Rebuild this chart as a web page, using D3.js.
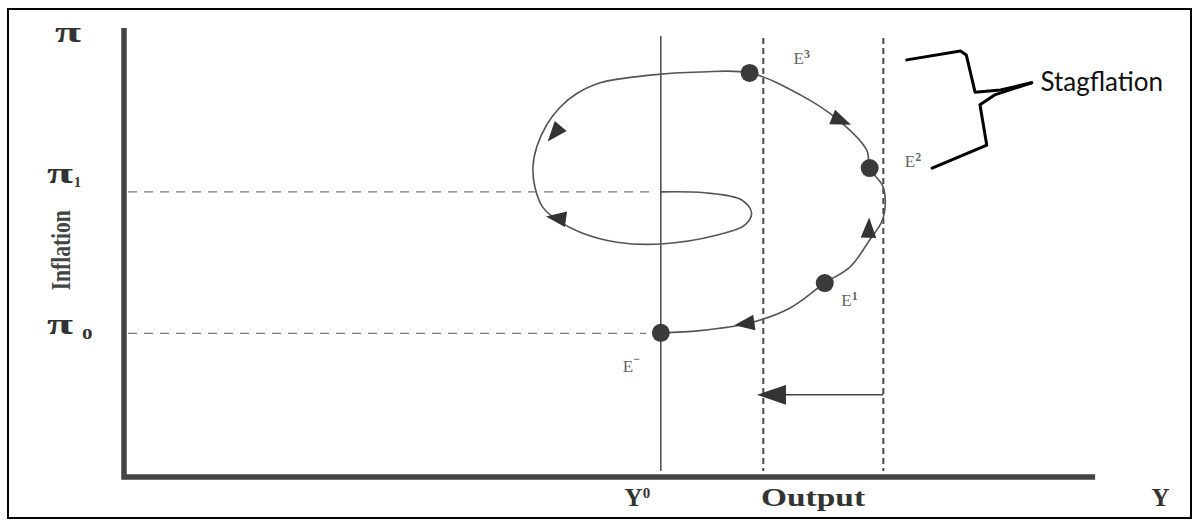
<!DOCTYPE html>
<html>
<head>
<meta charset="utf-8">
<script src="https://cdn.jsdelivr.net/npm/d3@7"></script>
<style>
  body { margin: 0; background: #fff; }
  svg { display: block; }
</style>
</head>
<body>
<div id="chart-area"></div>
<script>
// axis ticks on the inflation axis
const yTickLabels = ["π", "π", "π"];
const yTickSubs = ["", "1", "o"];
const yTickValues = [98.5, 63.5, 32.0];

// bottom labels
const xLabelText = ["Y", "Output", "Y"];
const xLabelSup = ["0", "", ""];
const xLabelValues = [52.6, 70.6, 106.2];

// vertical reference lines (output levels)
const vLineValues = [55.0, 65.5, 77.8];

// adjustment path (output, inflation)
const spiralX = [55.0, 59.0, 64.1, 68.2, 71.8, 74.4, 76.4, 77.7, 78.0, 77.7, 76.4, 76.1, 73.2, 69.3, 64.1,
  59.0, 53.9, 48.8, 46.4, 44.7, 43.3, 42.3, 41.9, 42.1, 42.9, 44.4, 47.0, 50.5, 55.0, 60.8, 63.6, 64.3, 63.3, 59.5, 55.0];
const spiralY = [32.1, 32.6, 34.3, 37.6, 43.2, 46.8, 52.8, 57.2, 61.7, 65.0, 68.8, 72.8, 79.5, 85.1, 90.0,
  90.2, 89.5, 87.8, 85.4, 82.4, 78.4, 73.6, 69.0, 64.6, 60.1, 57.2, 54.3, 52.3, 51.9, 53.9, 56.1, 58.8, 61.7, 63.3, 63.5];

// equilibrium points
const pointNames = ["E", "E", "E", "E"];
const pointSups = ["−", "1", "2", "3"];
const pointX = [55.0, 71.8, 76.4, 64.1];
const pointY = [32.1, 43.2, 68.8, 90.0];
const pointLabelX = [51.1, 73.5, 80.0, 68.6];
const pointLabelY = [23.4, 38.0, 69.0, 92.0];

// direction arrows on the path (angle in degrees, 0 = right, 90 = down)
const arrowX = [44.3, 44.6, 63.9, 73.2, 76.3];
const arrowY = [77.0, 57.6, 34.2, 79.6, 54.8];
const arrowAngle = [130, 188, 172, 22, 272];

// horizontal shift arrow
const shiftFrom = 77.8;
const shiftTo = 65.5;
const shiftY = 18.3;

// stagflation brace
const braceTopX = [80.2, 85.7, 86.3, 87.2, 89.8, 93.0];
const braceTopY = [92.9, 94.9, 94.0, 85.7, 86.2, 87.8];
const braceBotX = [93.0, 89.2, 87.7, 88.4, 82.8];
const braceBotY = [87.8, 85.1, 82.9, 73.9, 68.8];

const W = 1193, H = 520;
const margin = { top: 28, right: 93, bottom: 43, left: 124 };
const width = W - margin.left - margin.right;
const height = H - margin.top - margin.bottom;

const svg = d3.select("#chart-area")
  .append("svg")
    .attr("width", W)
    .attr("height", H);

// outer frame
svg.append("rect")
  .attr("x", 8).attr("y", 9)
  .attr("width", W - 10).attr("height", H - 11)
  .attr("fill", "none")
  .attr("stroke", "#000")
  .attr("stroke-width", 2);

const g = svg.append("g")
  .attr("transform", `translate(${margin.left}, ${margin.top})`);

const x = d3.scaleLinear().domain([0, 100]).range([0, width]);
const y = d3.scaleLinear().domain([0, 100]).range([height, 0]);

const ink = "#4a4a4a";

// dashed inflation guides
g.selectAll(".pi-guide")
  .data([63.5, 32.0])
  .enter()
  .append("line")
    .attr("class", "pi-guide")
    .attr("x1", 4)
    .attr("x2", (d, i) => i === 0 ? x(54.5) : x(53.5))
    .attr("y1", d => y(d))
    .attr("y2", d => y(d))
    .attr("stroke", "#777")
    .attr("stroke-width", 1.3)
    .attr("stroke-dasharray", "9,7");

// vertical lines
g.selectAll(".vline")
  .data(vLineValues)
  .enter()
  .append("line")
    .attr("class", "vline")
    .attr("x1", d => x(d))
    .attr("x2", d => x(d))
    .attr("y1", (d, i) => i === 0 ? 8 : 10)
    .attr("y2", height - 6)
    .attr("stroke", ink)
    .attr("stroke-width", (d, i) => i === 0 ? 1.5 : 2)
    .attr("stroke-dasharray", (d, i) => i === 0 ? null : "6,4");

// spiral
const line = d3.line()
  .x(d => x(d[0]))
  .y(d => y(d[1]))
  .curve(d3.curveCatmullRom.alpha(0.5));

g.append("path")
  .datum(spiralX.map((v, i) => [v, spiralY[i]]))
  .attr("d", line)
  .attr("fill", "none")
  .attr("stroke", "#555")
  .attr("stroke-width", 1.6);

// arrows along spiral
const tri = d3.symbol().type(d3.symbolTriangle).size(130);
g.selectAll(".dir")
  .data(arrowX)
  .enter()
  .append("path")
    .attr("class", "dir")
    .attr("d", tri)
    .attr("transform", (d, i) => `translate(${x(d)},${y(arrowY[i])}) rotate(${arrowAngle[i] + 90}) scale(0.9,1.35)`)
    .attr("fill", "#333");

// equilibrium dots
g.selectAll(".eq")
  .data(pointX)
  .enter()
  .append("circle")
    .attr("class", "eq")
    .attr("cx", d => x(d))
    .attr("cy", (d, i) => y(pointY[i]))
    .attr("r", 9)
    .attr("fill", "#3a3a3a");

// equilibrium labels
const eLabels = g.selectAll(".elab")
  .data(pointNames)
  .enter()
  .append("text")
    .attr("class", "elab")
    .attr("x", (d, i) => x(pointLabelX[i]))
    .attr("y", (d, i) => y(pointLabelY[i]))
    .attr("font-family", "Liberation Serif, serif")
    .attr("font-size", "17px")
    .attr("fill", "#666");
eLabels.append("tspan").text(d => d);
eLabels.append("tspan")
  .attr("dy", (d, i) => i === 0 ? -9 : -6)
  .attr("font-size", "12px")
  .attr("font-weight", "bold")
  .text((d, i) => pointSups[i]);

// shift arrow
g.append("line")
  .attr("x1", x(shiftFrom))
  .attr("x2", x(shiftTo) + 22)
  .attr("y1", y(shiftY))
  .attr("y2", y(shiftY))
  .attr("stroke", "#444")
  .attr("stroke-width", 1.5);
g.append("path")
  .attr("d", d3.symbol().type(d3.symbolTriangle).size(190))
  .attr("transform", `translate(${x(shiftTo) + 13},${y(shiftY)}) rotate(-90) scale(0.95,1.6)`)
  .attr("fill", "#333");

// axes (heavy L shape)
g.append("path")
  .attr("d", `M0,0 V${height} H${x(99.5)}`)
  .attr("fill", "none")
  .attr("stroke", "#444")
  .attr("stroke-width", 5.5);

// inflation tick labels
const piX = [-69, -77, -77];
const piDy = [7, -9, 1];
yTickLabels.forEach((t, i) => {
  g.append("text")
    .attr("x", piX[i])
    .attr("y", y(yTickValues[i]) + piDy[i])
    .attr("font-family", "Liberation Serif, serif")
    .attr("font-weight", "bold")
    .attr("font-size", "30px")
    .attr("textLength", 26)
    .attr("lengthAdjust", "spacingAndGlyphs")
    .attr("fill", "#333")
    .text(t);
  if (yTickSubs[i]) {
    g.append("text")
      .attr("x", piX[i] + (i === 1 ? 27 : 35))
      .attr("y", y(yTickValues[i]) + piDy[i] + (i === 1 ? 4 : 5))
      .attr("font-family", "Liberation Serif, serif")
      .attr("font-weight", "bold")
      .attr("font-size", i === 1 ? "14px" : "21px")
      .attr("fill", "#333")
      .text(yTickSubs[i]);
  }
});

// axis titles
g.append("text")
  .attr("transform", `translate(-54, ${y(50.5)}) rotate(-90)`)
  .attr("text-anchor", "middle")
  .attr("font-family", "Liberation Serif, serif")
  .attr("font-size", "27px")
  .attr("font-weight", "bold")
  .attr("textLength", 80)
  .attr("lengthAdjust", "spacingAndGlyphs")
  .attr("fill", "#444")
  .text("Inflation");

xLabelText.forEach((t, i) => {
  const tx = g.append("text")
    .attr("x", x(xLabelValues[i]))
    .attr("y", height + 29)
    .attr("text-anchor", "middle")
    .attr("font-family", "Liberation Serif, serif")
    .attr("font-weight", "bold")
    .attr("font-size", "25px")
    .attr("fill", "#333");
  if (t === "Output") {
    tx.attr("textLength", 104).attr("lengthAdjust", "spacingAndGlyphs");
  }
  tx.append("tspan").text(t);
  if (xLabelSup[i]) {
    tx.append("tspan")
      .attr("dy", -8)
      .attr("font-size", "15px")
      .text(xLabelSup[i]);
  }
});

// stagflation brace and label
const brace = d3.line()
  .x(d => x(d[0]))
  .y(d => y(d[1]));
[[braceTopX, braceTopY], [braceBotX, braceBotY]].forEach(([bx, by]) => {
  g.append("path")
    .datum(bx.map((v, i) => [v, by[i]]))
    .attr("d", brace)
    .attr("fill", "none")
    .attr("stroke", "#000")
    .attr("stroke-width", 3)
    .attr("stroke-linejoin", "round")
    .attr("stroke-linecap", "round");
});

g.append("text")
  .attr("x", x(93.9))
  .attr("y", y(85.9))
  .attr("font-family", "Lato, sans-serif")
  .attr("font-size", "26px")
  .attr("fill", "#111")
  .text("Stagflation");
</script>
</body>
</html>
